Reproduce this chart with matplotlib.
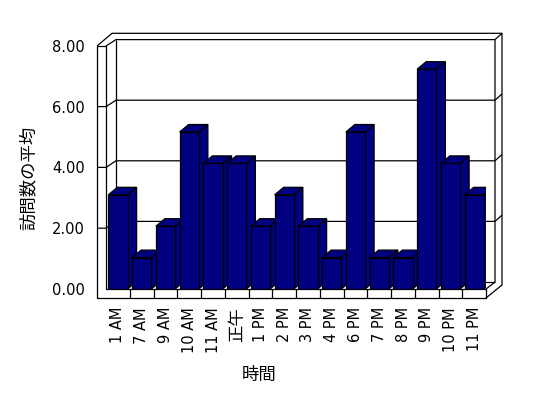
import numpy as np
import matplotlib
matplotlib.use("Agg")
import matplotlib.pyplot as plt
from matplotlib.patches import Polygon

plt.rcParams['font.family'] = ['DejaVu Sans', 'Noto Sans CJK JP']

# data
hours = ['1 AM', '7 AM', '9 AM', '10 AM', '11 AM', '正午', '1 PM', '2 PM',
         '3 PM', '4 PM', '6 PM', '7 PM', '8 PM', '9 PM', '10 PM', '11 PM']
visits = [3, 1, 2, 5, 4, 4, 2, 3, 2, 1, 5, 1, 1, 7, 4, 3]
yticks = [0, 2, 4, 6, 8]

navy = '#000080'
W, H = 548, 398

fig = plt.figure(figsize=(W / 100, H / 100), dpi=100)

# background axes in pixel units for the 3d frame
bg = fig.add_axes([0, 0, 1, 1])
bg.set_xlim(0, W)
bg.set_ylim(H, 0)
bg.axis('off')

lw = 0.9
def line(pts):
    pts = np.array(pts)
    bg.plot(pts[:, 0], pts[:, 1], color='black', lw=lw, solid_capstyle='butt')

# left wall + floor front face
line([(97, 46), (106, 46), (106, 289), (486, 289), (486, 298), (97, 298), (97, 46)])
# left wall top, back wall top
line([(97, 46), (112, 33.3), (502, 33.3)])
line([(106, 46), (116, 39.6), (495, 39.6)])
# right edge
line([(495, 39.6), (502, 33.3), (502, 285), (486, 298)])
line([(495, 39.6), (495, 282), (486, 289)])
# back wall
line([(116, 39.6), (116, 282), (495, 282)])

front_y = lambda v: 289 - 30.4 * v
back_y = lambda v: 282 - 30.3 * v
for v in yticks[1:-1]:
    line([(97, front_y(v)), (106, front_y(v)), (116, back_y(v)),
          (495, back_y(v)), (502, back_y(v) - 6.3)])

# front y axis (labels only)
axf = fig.add_axes([97 / W, (H - 289) / H, 9 / W, 8 * 30.4 / H])
axf.set_ylim(0, 8)
axf.set_yticks(yticks)
axf.set_yticklabels(['%.2f' % v for v in yticks], fontsize=10.5)
axf.tick_params(axis='y', length=0, pad=8.5)
axf.set_xticks([])
axf.patch.set_alpha(0)
for s in axf.spines.values():
    s.set_visible(False)

# bar axes
ax = fig.add_axes([106.125 / W, (H - 289) / H, 380 / W, 251.2 / H])
ax.set_xlim(-0.5, len(hours) - 0.5)
ax.set_ylim(0, 8)
ax.patch.set_alpha(0)
for s in ax.spines.values():
    s.set_visible(False)
ax.set_yticks([])
x = np.arange(len(hours))
ax.set_xticks(x)
ax.set_xticklabels(hours, rotation=90, fontsize=10.5)
ax.tick_params(axis='x', length=0, pad=13)
for t in ax.get_xticklabels():
    if t.get_text() == '正午':
        t.set_fontsize(12.5)

# floor front dividers
ax.vlines(x[:-1] + 0.5, -9 / 31.4, 0, color='black', lw=lw, clip_on=False)

bw = 0.81
dx, dy = 9 / 23.75, 7.5 / 31.4
bars = ax.bar(x, visits, width=bw, color=navy, edgecolor='black', lw=lw)
for i, (xi, v, b) in enumerate(zip(x, visits, bars)):
    z = 3 + i * 0.01
    l, r = xi - bw / 2, xi + bw / 2
    side = Polygon([(r, 0), (r + dx, dy), (r + dx, v + dy), (r, v)],
                   closed=True, fc=navy, ec='black', lw=lw, zorder=z)
    top = Polygon([(l, v), (l + dx, v + dy), (r + dx, v + dy), (r, v)],
                  closed=True, fc=navy, ec='black', lw=lw, zorder=z)
    ax.add_patch(side)
    ax.add_patch(top)
    b.set_zorder(z + 0.005)

bg.text(29, 178, '訪問数の平均', rotation=90, ha='center', va='center',
        fontsize=12.5, family=['Noto Sans CJK JP'])
bg.text(259, 375, '時間', ha='center', va='center',
        fontsize=12.5, family=['Noto Sans CJK JP'])

fig.savefig('out.png', dpi=100)
